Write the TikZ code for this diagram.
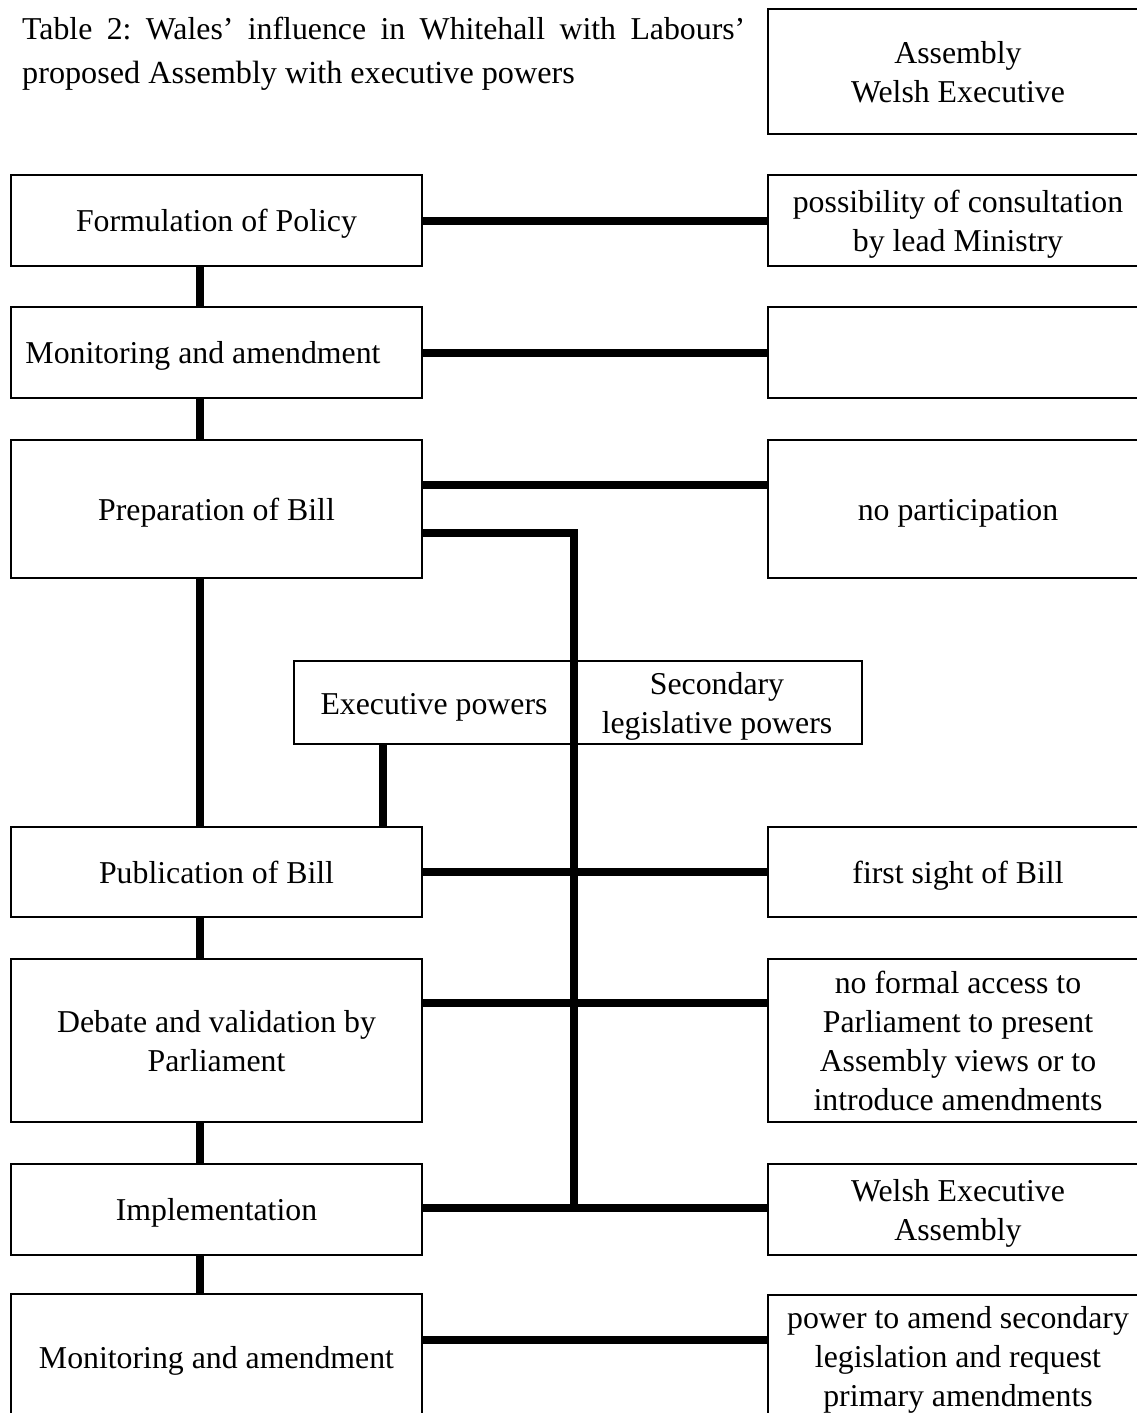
\documentclass[tikz,border=0pt]{standalone}
\usepackage{fontspec}
\setmainfont{Liberation Serif}
\newcommand\mytopstrut{\rule{0pt}{30.5pt}}
\newcommand\mybotstrut{\rule[-8.5pt]{0pt}{0pt}}
\newcommand\myfirst{\rule{0pt}{31pt}}
\newcommand\mylast{\rule[-8.5pt]{0pt}{0pt}}
\begin{document}
\frenchspacing
\begin{tikzpicture}[x=1pt,y=-1pt,
  every node/.style={font=\fontsize{31.8}{39}\selectfont},
  txt/.style={execute at begin node=\mytopstrut, execute at end node=\mybotstrut},
  box/.style={draw, line width=2pt, align=center, inner sep=0pt, outer sep=0pt, txt},
  lbox/.style={box, minimum width=411pt},
  rbox/.style={box, minimum width=380pt},
  conn/.style={line width=8pt, line join=miter}]
\useasboundingbox (0,0) rectangle (1137,1413);
\clip (0,0) rectangle (1137,1413);
% title
\node[anchor=base west, inner sep=0pt] (t1) at (22,40) {\makebox[723pt][s]{Table 2: Wales' influence in Whitehall with Labours'}};
\node[anchor=base west, inner sep=0pt] (t2) at (22,83) {\fontsize{32.2}{39}\selectfont proposed Assembly with executive powers};
\node[rbox, minimum height=125pt] (top) at (958,71.5) {\myfirst Assembly\\Welsh Executive\mylast};
% left column
\node[lbox, minimum height=91pt] (f) at (216.5,220.5) {Formulation of Policy};
\node[lbox, minimum height=91pt] (m1) at (216.5,352.5) {\hspace*{-27pt}Monitoring and amendment};
\node[lbox, minimum height=138pt] (prep) at (216.5,509) {Preparation of Bill};
\node[lbox, minimum height=90pt] (pub) at (216.5,872) {Publication of Bill};
\node[lbox, minimum height=163pt] (deb) at (216.5,1040.5) {\myfirst Debate and validation by\\Parliament\mylast};
\node[lbox, minimum height=91pt] (impl) at (216.5,1209.5) {Implementation};
\node[lbox, minimum height=126pt] (m2) at (216.5,1357) {Monitoring and amendment};
% right column
\node[rbox, minimum height=91pt] (fr) at (958,220.5) {\myfirst possibility of consultation\\by lead Ministry\mylast};
\node[rbox, minimum height=91pt] (m1r) at (958,352.5) {};
\node[rbox, minimum height=138pt] (prepr) at (958,509) {no participation};
\node[rbox, minimum height=90pt] (pubr) at (958,872) {first sight of Bill};
\node[rbox, minimum height=163pt] (debr) at (958,1040.5) {\myfirst no formal access to\\Parliament to present\\Assembly views or to\\introduce amendments\mylast};
\node[rbox, minimum height=91pt] (implr) at (958,1209.5) {\myfirst Welsh Executive\\Assembly\mylast};
\node[rbox, minimum height=122pt] (m2r) at (958,1356) {\myfirst power to amend secondary\\legislation and request\\primary amendments\mylast};
% middle box
\node[draw, line width=1.4pt, minimum width=568pt, minimum height=83pt, inner sep=0pt, outer sep=0pt] (mid) at (578,702.5) {};
\node[txt] (ep) at (434,703) {Executive powers};
\node[align=center] (slp) at (717,703) {\myfirst Secondary\\legislative powers\mylast};
% vertical left chain
\draw[conn] (199.5,0 |- f.south) -- (199.5,0 |- m1.north);
\draw[conn] (199.5,0 |- m1.south) -- (199.5,0 |- prep.north);
\draw[conn] (199.5,0 |- prep.south) -- (199.5,0 |- pub.north);
\draw[conn] (199.5,0 |- pub.south) -- (199.5,0 |- deb.north);
\draw[conn] (199.5,0 |- deb.south) -- (199.5,0 |- impl.north);
\draw[conn] (199.5,0 |- impl.south) -- (199.5,0 |- m2.north);
% horizontal connectors
\draw[conn] (f.east |- 0,220.5) -- (fr.west |- 0,220.5);
\draw[conn] (m1.east) -- (m1r.west);
\draw[conn] (prep.east |- 0,484.5) -- (prepr.west |- 0,484.5);
\draw[conn] (pub.east) -- (pubr.west);
\draw[conn] (deb.east |- 0,1003) -- (debr.west |- 0,1003);
\draw[conn] (impl.east |- 0,1208) -- (implr.west |- 0,1208);
\draw[conn] (m2.east |- 0,1340) -- (m2r.west |- 0,1340);
% bus
\coordinate (bt) at (574,532.5);
\coordinate (bb) at (574,1208);
\draw[conn] (prep.east |- bt) -- (bt) -- (bb);
% executive powers connector
\draw[conn] (383,0 |- mid.south) -- (383,0 |- pub.north);
\end{tikzpicture}
\end{document}
